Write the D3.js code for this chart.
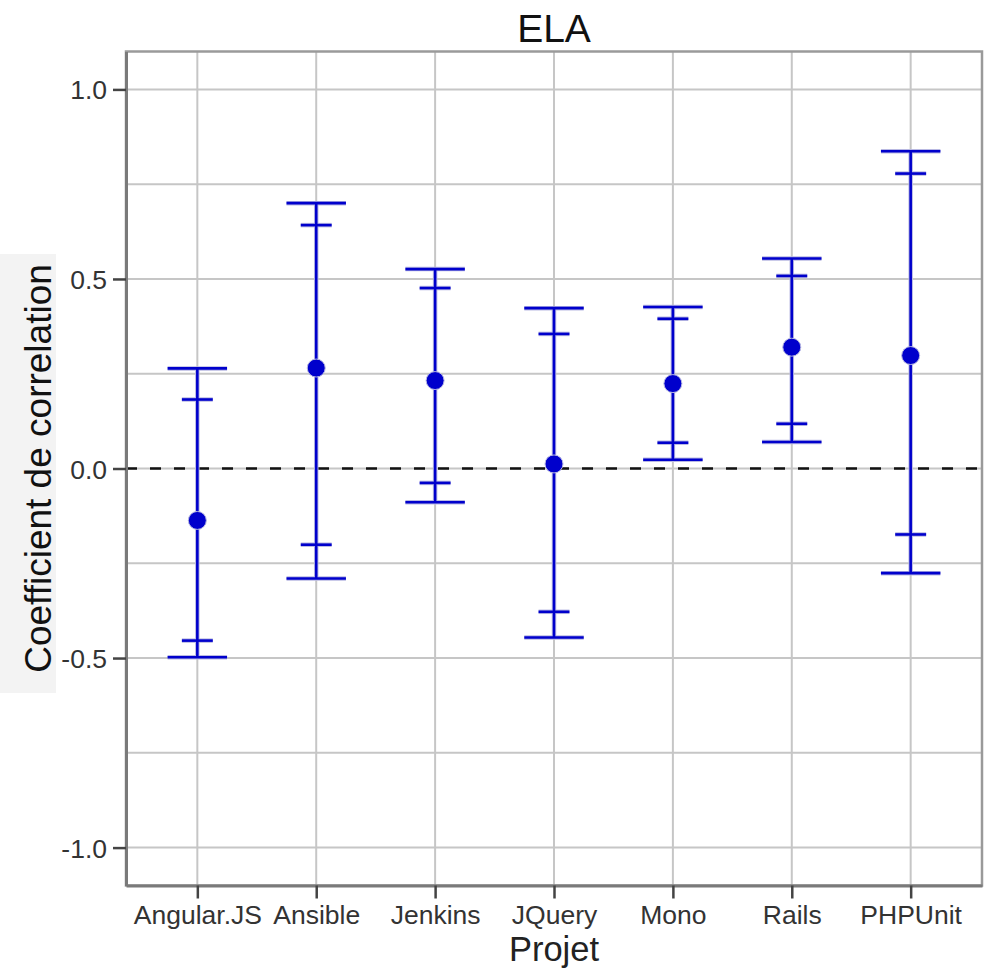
<!DOCTYPE html>
<html>
<head>
<meta charset="utf-8">
<script src="https://cdn.jsdelivr.net/npm/d3@7"></script>
<style>
  html, body { margin: 0; padding: 0; background: #ffffff; }
  svg { display: block; font-family: "Liberation Sans", Arial, Helvetica, sans-serif; }
</style>
</head>
<body>
<svg id="chart" width="986" height="970"></svg>
<script>
// ---- data ----
const categories = ["Angular.JS", "Ansible", "Jenkins", "JQuery", "Mono", "Rails", "PHPUnit"];
const estimate   = [-0.137, 0.265, 0.232, 0.012, 0.224, 0.320, 0.298];
const outerLow   = [-0.498, -0.290, -0.089, -0.446, 0.023, 0.070, -0.276];
const outerHigh  = [0.264, 0.700, 0.526, 0.423, 0.426, 0.554, 0.837];
const innerLow   = [-0.454, -0.201, -0.038, -0.378, 0.068, 0.118, -0.174];
const innerHigh  = [0.182, 0.642, 0.476, 0.355, 0.395, 0.508, 0.778];
const yTicks     = [-1.0, -0.5, 0.0, 0.5, 1.0];
const yTickLabels = ["-1.0", "-0.5", "0.0", "0.5", "1.0"];
const yMinor     = [-0.75, -0.25, 0.25, 0.75];
const titleText  = "ELA";
const xTitle     = "Projet";
const yTitle     = "Coefficient de correlation";

const rows = categories.map((c, i) => ({
  cat: c, est: estimate[i], lo: outerLow[i], hi: outerHigh[i], ilo: innerLow[i], ihi: innerHigh[i]
}));

// ---- layout ----
const L = 126, R = 982, T = 51.5, B = 885.5;
const svg = d3.select("#chart");

const x = d3.scalePoint().domain(categories).range([L, R]).padding(0.6);
const y = d3.scaleLinear().domain([-1.1, 1.1]).range([B, T]);
const step = x.step();

const blue = "#0000cc";
const halo = "#b9b9e2";

// y-title background
svg.append("rect").attr("x", 0).attr("y", 254).attr("width", 56).attr("height", 439)
  .attr("fill", "#f3f3f3");

// panel background
svg.append("rect").attr("x", L).attr("y", T).attr("width", R - L).attr("height", B - T)
  .attr("fill", "#ffffff");

// grid
const grid = svg.append("g");
grid.selectAll("line.h").data(yTicks.concat(yMinor)).join("line")
  .attr("x1", L).attr("x2", R)
  .attr("y1", d => y(d)).attr("y2", d => y(d))
  .attr("stroke", "#c6c6c6").attr("stroke-width", 2);
grid.selectAll("line.v").data(categories).join("line")
  .attr("x1", d => x(d)).attr("x2", d => x(d))
  .attr("y1", T).attr("y2", B)
  .attr("stroke", "#c6c6c6").attr("stroke-width", 2);

// zero reference line (dashed)
svg.append("line").attr("x1", L).attr("x2", R).attr("y1", y(0)).attr("y2", y(0))
  .attr("stroke", "#111").attr("stroke-width", 2.5).attr("stroke-dasharray", "11,13");

// panel border
svg.append("rect").attr("x", L).attr("y", T).attr("width", R - L).attr("height", B - T)
  .attr("fill", "none").attr("stroke", "#9a9a9a").attr("stroke-width", 2.5);

// axes
const yAxis = d3.axisLeft(y).tickValues(yTicks)
  .tickFormat((d, i) => yTickLabels[i]).tickSize(13).tickSizeOuter(0).tickPadding(6);
const gy = svg.append("g").attr("transform", `translate(${L},0)`).call(yAxis);
gy.select(".domain").attr("stroke", "#7a7a7a").attr("stroke-width", 3);
gy.selectAll(".tick line").attr("stroke", "#444").attr("stroke-width", 2.5);
gy.selectAll(".tick text").attr("fill", "#333").attr("font-size", 26.5)
  .attr("font-family", "'Liberation Sans', Arial, sans-serif").attr("dy", "0.36em");

const xAxis = d3.axisBottom(x).tickSize(13).tickSizeOuter(0).tickPadding(7);
const gx = svg.append("g").attr("transform", `translate(0,${B})`).call(xAxis);
gx.select(".domain").attr("stroke", "#7a7a7a").attr("stroke-width", 3);
gx.selectAll(".tick line").attr("stroke", "#444").attr("stroke-width", 2.5);
gx.selectAll(".tick text").attr("fill", "#333").attr("font-size", 26.5)
  .attr("font-family", "'Liberation Sans', Arial, sans-serif");

// error bars
const eb = svg.append("g");
function vline(sel, color, w) {
  sel.append("g").selectAll("line").data(rows).join("line")
    .attr("x1", d => x(d.cat)).attr("x2", d => x(d.cat))
    .attr("y1", d => y(d.lo)).attr("y2", d => y(d.hi))
    .attr("stroke", color).attr("stroke-width", w);
}
function caps(sel, key, frac, color, w) {
  sel.append("g").selectAll("line").data(rows).join("line")
    .attr("x1", d => x(d.cat) - frac * step / 2).attr("x2", d => x(d.cat) + frac * step / 2)
    .attr("y1", d => y(d[key])).attr("y2", d => y(d[key]))
    .attr("stroke", color).attr("stroke-width", w);
}
// halos
vline(eb, halo, 4.5);
caps(eb, "hi", 0.5, halo, 4.5); caps(eb, "lo", 0.5, halo, 4.5);
caps(eb, "ihi", 0.26, halo, 4.5); caps(eb, "ilo", 0.26, halo, 4.5);
// core
vline(eb, blue, 2.6);
caps(eb, "hi", 0.5, blue, 2.6); caps(eb, "lo", 0.5, blue, 2.6);
caps(eb, "ihi", 0.26, blue, 2.6); caps(eb, "ilo", 0.26, blue, 2.6);

// points
eb.append("g").selectAll("circle").data(rows).join("circle")
  .attr("cx", d => x(d.cat)).attr("cy", d => y(d.est)).attr("r", 9)
  .attr("fill", blue).attr("stroke", halo).attr("stroke-width", 1);

// titles
svg.append("text").attr("x", (L + R) / 2).attr("y", 42).attr("text-anchor", "middle")
  .attr("font-size", 39).attr("fill", "#111").text(titleText);
svg.append("text").attr("x", (L + R) / 2).attr("y", 961).attr("text-anchor", "middle")
  .attr("font-size", 34.5).attr("fill", "#222").text(xTitle);
svg.append("text").attr("transform", `translate(51,${y(0)}) rotate(-90)`).attr("text-anchor", "middle")
  .attr("font-size", 37).attr("fill", "#111").text(yTitle);
</script>
</body>
</html>
